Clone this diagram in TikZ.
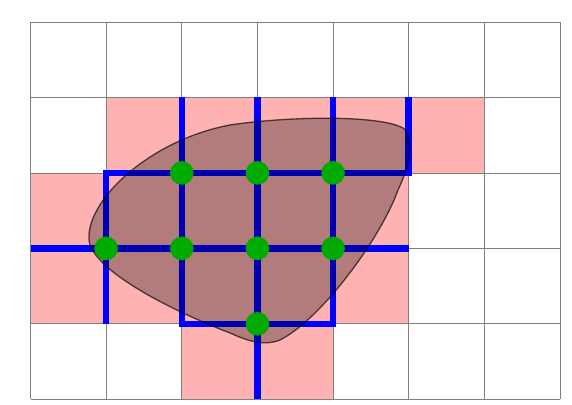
\documentclass[tikz,border=0pt]{standalone}
\begin{document}
\begin{tikzpicture}[x=1pt,y=-1pt,
  gridline/.style={draw=black!50,line width=0.8pt},
  pinkcell/.style={fill=red!30},
  bluepath/.style={draw=blue,line width=6.5pt,line join=miter,line cap=butt},
  blobshape/.style={fill=black,fill opacity=0.3,draw=black,draw opacity=0.65,line width=1.3pt},
  gdot/.style={fill=green!67!black}]
\useasboundingbox (0,0) rectangle (572,404);
\begin{scope}[xshift=30.5pt,yshift=-22pt,x=75.64pt,y=-75.46pt]
  % pink cells
  \foreach \c/\r in {1/1,2/1,3/1,4/1,5/1,0/2,1/2,2/2,3/2,4/2,0/3,1/3,2/3,3/3,4/3,2/4,3/4}
    \path[pinkcell] (\c,\r) rectangle ++(1,1);
  % grid
  \foreach \i in {0,...,7} \draw[gridline] (\i,0) -- (\i,5);
  \foreach \j in {0,...,5} \draw[gridline] (0,\j) -- (7,\j);
  % blue lines
  \draw[bluepath] (1,4) -- (1,2) -- (5,2) -- (5,1);
  \draw[bluepath] (0,3) -- (5,3);
  \draw[bluepath] (2,1) -- (2,4) -- (4,4) -- (4,1);
  \draw[bluepath] (3,1) -- (3,5);
\end{scope}
% blob
\draw[blobshape] (89,240) .. controls (86,200) and (150,140) .. (230,125)
  .. controls (290,116) and (380,115) .. (403,128)
  .. controls (415,138) and (410,165) .. (398,190)
  .. controls (380,240) and (320,320) .. (280,340)
  .. controls (265,346) and (250,342) .. (230,333)
  .. controls (170,310) and (92,270) .. (89,240) -- cycle;
\begin{scope}[xshift=30.5pt,yshift=-22pt,x=75.64pt,y=-75.46pt]
  \foreach \c/\r in {2/2,3/2,4/2,1/3,2/3,3/3,4/3,3/4}
    \fill[gdot] (\c,\r) circle[radius=11.8pt];
\end{scope}
\end{tikzpicture}
\end{document}
